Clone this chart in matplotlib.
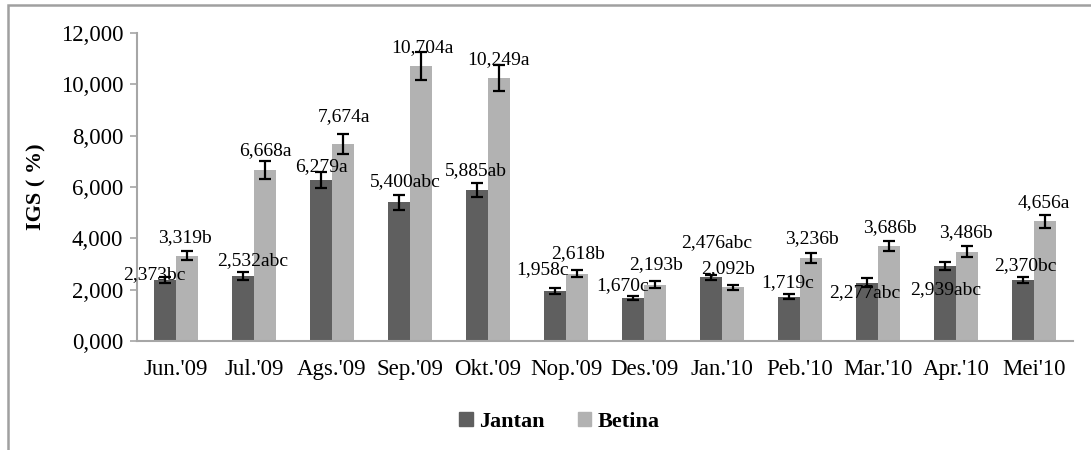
import matplotlib.pyplot as plt
import numpy as np
from matplotlib.patches import Patch, Rectangle

plt.rcParams['font.family'] = ['Liberation Serif', 'DejaVu Serif']

# Monthly gonadosomatic index (IGS) for males (Jantan) and females (Betina)
bulan = ["Jun.'09", "Jul.'09", "Ags.'09", "Sep.'09", "Okt.'09", "Nop.'09",
         "Des.'09", "Jan.'10", "Peb.'10", "Mar.'10", "Apr.'10", "Mei'10"]
jantan = [2.373, 2.532, 6.279, 5.400, 5.885, 1.958, 1.670, 2.476, 1.719, 2.277, 2.939, 2.370]
betina = [3.319, 6.668, 7.674, 10.704, 10.249, 2.618, 2.193, 2.092, 3.236, 3.686, 3.486, 4.656]
jantan_se = [0.12, 0.16, 0.30, 0.29, 0.29, 0.11, 0.085, 0.115, 0.10, 0.16, 0.155, 0.105]
betina_se = [0.18, 0.34, 0.39, 0.54, 0.50, 0.14, 0.13, 0.10, 0.18, 0.195, 0.21, 0.26]
huruf_jantan = ['bc', 'abc', 'a', 'abc', 'ab', 'c', 'c', 'abc', 'c', 'abc', 'abc', 'bc']
huruf_betina = ['b', 'a', 'a', 'a', 'a', 'b', 'b', 'b', 'b', 'b', 'b', 'a']

# label nudges in pixels (dx, dy from top of error bar)
geser_jantan = [(-11, 2), (10, 11), (0, 6), (6, 13), (-1, 12), (-13, 18),
                (-10, 10), (6, 32), (-1, 12), (-2, -14), (1, -28), (2, 12)]
geser_betina = [(-2, 14), (0, 11), (1, 17), (1, 5), (0, 6), (1, 17),
                (1, 17), (-5, 16), (1, 15), (1, 14), (-1, 14), (-1, 12)]


def angka(v):
    # 3-decimal number written with comma as decimal separator
    return f'{v:.3f}'.replace('.', ',')


fig = plt.figure(figsize=(10.91, 4.5), dpi=100)
ax = fig.add_axes([0.1256, 0.2422, 0.8579, 0.6845])

x = np.arange(len(bulan))
w = 0.28
warna_j = '#5f5f5f'
warna_b = '#b2b2b2'
ax.bar(x - w / 2, [v * 1000 for v in jantan], w, color=warna_j, zorder=2)
ax.bar(x + w / 2, [v * 1000 for v in betina], w, color=warna_b, zorder=2)
ax.errorbar(x - w / 2, [v * 1000 for v in jantan], yerr=[e * 1000 for e in jantan_se],
            fmt='none', ecolor='black', elinewidth=1.6, capsize=4.5, capthick=1.6, zorder=3)
ax.errorbar(x + w / 2, [v * 1000 for v in betina], yerr=[e * 1000 for e in betina_se],
            fmt='none', ecolor='black', elinewidth=1.6, capsize=4.5, capthick=1.6, zorder=3)

for i in range(len(bulan)):
    for val, se, huruf, geser, dx0 in [(jantan[i], jantan_se[i], huruf_jantan[i], geser_jantan[i], -w / 2),
                                       (betina[i], betina_se[i], huruf_betina[i], geser_betina[i], w / 2)]:
        ax.annotate(angka(val) + huruf, (x[i] + dx0, (val + se) * 1000),
                    xytext=geser, textcoords='offset pixels',
                    ha='center', va='center', fontsize=14, zorder=4)

ax.set_xlim(-0.5, len(bulan) - 0.5)
ax.set_ylim(0, 12000)
ax.set_yticks(np.arange(0, 12001, 2000))
ax.set_yticklabels([f'{t // 1000},000' for t in range(0, 12001, 2000)])
ax.set_xticks(x)
ax.set_xticklabels(bulan)
ax.tick_params(axis='y', labelsize=16.5, length=5, width=1.2, color='#a6a6a6', pad=5)
ax.tick_params(axis='x', labelsize=16.5, length=0, pad=13)
for s in ['top', 'right']:
    ax.spines[s].set_visible(False)
for s in ['left', 'bottom']:
    ax.spines[s].set_color('#a6a6a6')
    ax.spines[s].set_linewidth(1.5)
ax.set_ylabel('IGS ( %)', fontsize=16, fontweight='bold', labelpad=10)

handles = [Patch(color=warna_j, label='Jantan'), Patch(color=warna_b, label='Betina')]
fig.legend(handles=handles, loc='center', bbox_to_anchor=(0.513, 0.062), ncol=2,
           frameon=False, prop={'size': 16, 'weight': 'bold'},
           handlelength=0.6, handleheight=0.6, handletextpad=0.3, columnspacing=1.5)

# outer chart frame
fig.patches.append(Rectangle((8 / 1091, -0.1), 1.2, 1.1 - 5 / 450,
                             transform=fig.transFigure, fill=False,
                             edgecolor='#a0a0a0', linewidth=1.8))

fig.savefig('out.png', dpi=100)
